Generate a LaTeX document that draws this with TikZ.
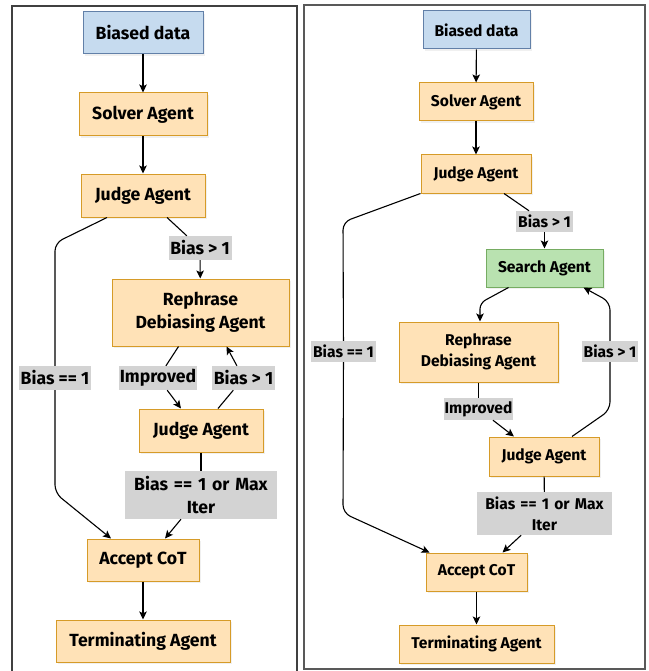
\documentclass[tikz,border=0pt]{standalone}
\usepackage{fontspec}
\setmainfont{Fira Sans}
\usetikzlibrary{arrows.meta,positioning,shadows}
\definecolor{peach}{RGB}{255,226,183}
\definecolor{peachline}{RGB}{214,155,40}
\definecolor{sky}{RGB}{198,219,239}
\definecolor{skyline}{RGB}{98,128,168}
\definecolor{mint}{RGB}{185,226,176}
\definecolor{mintline}{RGB}{118,172,98}
\definecolor{tagfill}{RGB}{211,211,211}

\begin{document}
\begin{tikzpicture}[x=1pt,y=-1pt,
    agent/.style 2 args={draw=peachline,fill=peach,line width=1pt,align=center,inner sep=0pt,
      minimum width=#1pt,minimum height=#2pt,
      drop shadow={opacity=0.12,shadow xshift=2pt,shadow yshift=-2pt}},
    inbox/.style 2 args={agent={#1}{#2},draw=skyline,fill=sky},
    searchbox/.style 2 args={agent={#1}{#2},draw=mintline,fill=mint},
    cond/.style={fill=tagfill,align=center,inner xsep=1pt,inner ysep=0pt},
    lf/.style={font=\fontsize{17.6}{23}\selectfont\bfseries},
    rf/.style={font=\fontsize{15.6}{21}\selectfont\bfseries},
    edge/.style={line width=1.1pt},
    arr/.style={edge,-{Stealth[length=8pt,width=7.5pt,inset=1.8pt]}}]
  \useasboundingbox (0,0) rectangle (648,671);

  % panel frames
  \draw[black!75,line width=1.2pt] (12,673) -- (12,6) -- (297,6) -- (297,673);
  \draw[black!65,line width=1.2pt] (304,5) rectangle (645,669);

  % left panel
  \node[inbox={120}{42},lf] (lData) at (143,33) {Biased data};
  \node[agent={128}{43},lf] (lSolver) at (143,114.5) {Solver Agent};
  \node[agent={124}{43},lf] (lJudge) at (143,195.5) {Judge Agent};
  \node[cond,lf,minimum width=63pt,minimum height=24pt] (lGt) at (200,248) {Bias > 1};
  \node[agent={177}{67},lf] (lReph) at (200.5,312.5) {Rephrase\\Debiasing Agent};
  \node[cond,lf,minimum width=72pt,minimum height=24pt] (lEq) at (55,378) {Bias == 1};
  \node[cond,lf,minimum width=78pt,minimum height=24pt] (lImp) at (158,378) {Improved};
  \node[cond,lf,minimum width=63pt,minimum height=24pt] (lGtB) at (243.5,378) {Bias > 1};
  \node[agent={124}{43},lf] (lJudgeB) at (201,430.5) {Judge Agent};
  \node[cond,lf,text width=150pt,minimum height=48pt] (lMax) at (201,495) {Bias == 1 or Max\\Iter};
  \node[agent={112}{42},lf] (lAccept) at (143,560) {Accept CoT};
  \node[agent={174}{42},lf] (lTerm) at (143,641) {Terminating Agent};

  \coordinate (lc1) at (55,243);
  \coordinate (lc2) at (55,493);

  \draw[arr] (lData) -- (lSolver);
  \draw[arr] (lSolver) -- (lJudge);
  \draw[edge] ([xshift=24pt]lJudge.south) -- (lGt);
  \draw[arr] (lGt) -- (lReph);
  \draw[edge,rounded corners=8pt] ([xshift=-36pt]lJudge.south) -- (lc1) -- (lEq);
  \draw[arr,rounded corners=8pt] (lEq) -- (lc2) -- ([xshift=-32pt]lAccept.north);
  \draw[edge] ([xshift=-22pt]lReph.south) -- (lImp);
  \draw[arr] (lImp) -- ([xshift=-20pt]lJudgeB.north);
  \draw[edge] ([xshift=17pt]lJudgeB.north) -- (lGtB);
  \draw[arr] (lGtB) -- ([xshift=26pt]lReph.south);
  \draw[edge] (lJudgeB) -- (lMax);
  \draw[arr] (lMax) -- ([xshift=22pt]lAccept.north);
  \draw[arr] (lAccept) -- (lTerm);

  % right panel
  \node[inbox={107}{38},rf] (rData) at (476.5,30) {Biased data};
  \node[agent={114}{38},rf] (rSolver) at (476,102) {Solver Agent};
  \node[agent={110}{38},rf] (rJudge) at (476,174) {Judge Agent};
  \node[cond,rf,minimum width=57pt,minimum height=21pt] (rGt) at (544.5,221.5) {Bias > 1};
  \node[searchbox={117}{38},rf] (rSearch) at (544.5,268) {Search Agent};
  \node[agent={159}{60},rf] (rReph) at (478.5,352) {Rephrase\\Debiasing Agent};
  \node[cond,rf,minimum width=65pt,minimum height=21pt] (rEq) at (343.5,351.5) {Bias == 1};
  \node[cond,rf,minimum width=56pt,minimum height=21pt] (rGtB) at (610,351.5) {Bias > 1};
  \node[cond,rf,minimum width=69pt,minimum height=22pt] (rImp) at (478.5,409) {Improved};
  \node[agent={110}{39},rf] (rJudgeB) at (544,456.5) {Judge Agent};
  \node[cond,rf,text width=133pt,minimum height=43pt] (rMax) at (544.5,513.5) {Bias == 1 or Max\\Iter};
  \node[agent={101}{38},rf] (rAccept) at (476.5,572) {Accept CoT};
  \node[agent={155}{38},rf] (rTerm) at (476.5,644) {Terminating Agent};

  \coordinate (rc1) at (343,222);
  \coordinate (rc2) at (343,513);
  \coordinate (rc3) at (480,303);
  \coordinate (rc4) at (610,410);
  \coordinate (rc5) at (610,302);

  \draw[arr] (rData) -- (rSolver);
  \draw[arr] (rSolver) -- (rJudge);
  \draw[edge] ([xshift=28pt]rJudge.south) -- (rGt);
  \draw[arr] (rGt) -- (rSearch);
  \draw[arr,rounded corners=6pt] ([xshift=-36pt]rSearch.south) -- (rc3) -- (rc3 |- rReph.north);
  \draw[edge,rounded corners=8pt] (rJudge.south west) -- (rc1) -- (rEq);
  \draw[arr,rounded corners=8pt] (rEq) -- (rc2) -- ([xshift=-47pt]rAccept.north);
  \draw[edge] (rReph) -- (rImp);
  \draw[arr] (rImp) -- ([xshift=-30pt]rJudgeB.north);
  \draw[edge,rounded corners=8pt] ([xshift=28pt]rJudgeB.north) -- (rc4) -- (rGtB);
  \draw[arr,rounded corners=8pt] (rGtB) -- (rc5) -- ([xshift=39pt]rSearch.south);
  \draw[edge] (rJudgeB) -- (rMax);
  \draw[arr] (rMax) -- ([xshift=26pt]rAccept.north);
  \draw[arr] (rAccept) -- (rTerm);
\end{tikzpicture}
\end{document}
